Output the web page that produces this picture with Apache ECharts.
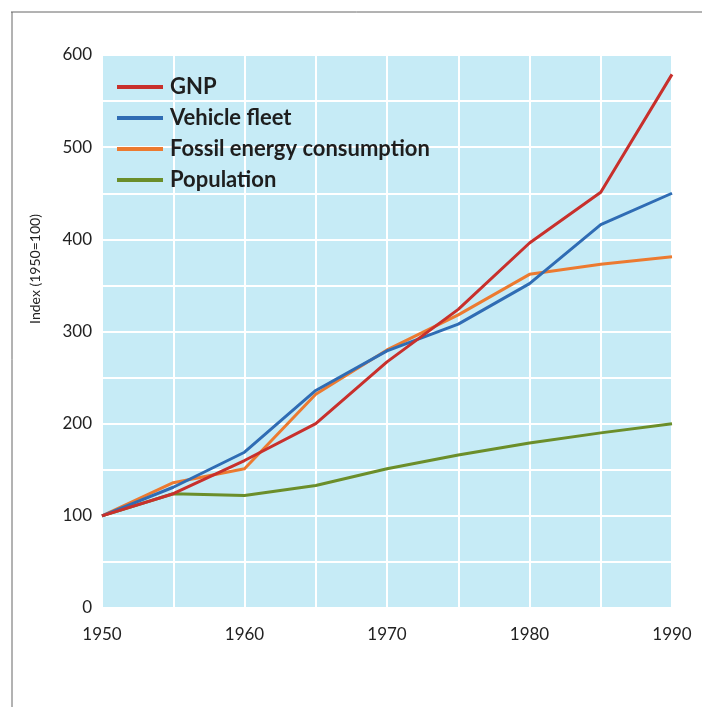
<!DOCTYPE html>
<html>
<head>
<meta charset="utf-8">
<script src="https://cdn.jsdelivr.net/npm/echarts@6/dist/echarts.min.js"></script>
<style>
html,body{margin:0;padding:0;background:#fff;}
#chart{width:702px;height:707px;}
</style>
</head>
<body>
<div id="chart"></div>
<script>
const years = [1950, 1955, 1960, 1965, 1970, 1975, 1980, 1985, 1990];
const gnp = [100, 124, 160, 200, 267, 324, 396, 451, 579];
const vehicleFleet = [100, 131, 169, 236, 279, 308, 352, 416, 450];
const fossilEnergy = [100, 136, 151, 232, 280, 318, 362, 373, 381];
const population = [100, 124, 122, 133, 151, 166, 179, 190, 200];
const seriesNames = ['GNP', 'Vehicle fleet', 'Fossil energy consumption', 'Population'];
const xTickLabels = [1950, 1960, 1970, 1980, 1990];
const yTickLabels = [0, 100, 200, 300, 400, 500, 600];
const yAxisTitle = 'Index (1950=100)';

const colors = ['#c8302c', '#2f6cb4', '#ec7a30', '#6b8e2a'];
const seriesData = [gnp, vehicleFleet, fossilEnergy, population];
const font = 'Lato, "Open Sans", sans-serif';

const chart = echarts.init(document.getElementById('chart'));
chart.setOption({
  animation: false,
  backgroundColor: '#ffffff',
  color: colors,
  graphic: [
    {type: 'line', shape: {x1: 11, y1: 12, x2: 702, y2: 12}, style: {stroke: '#666', lineWidth: 1}},
    {type: 'line', shape: {x1: 12, y1: 12, x2: 12, y2: 707}, style: {stroke: '#666', lineWidth: 1}},
    {type: 'text', x: 35, y: 269, rotation: Math.PI / 2,
     style: {text: yAxisTitle, font: '14px ' + font, fill: '#222', textAlign: 'center', textVerticalAlign: 'middle'}}
  ],
  grid: {
    left: 102, right: 30, top: 55, bottom: 99,
    show: true, backgroundColor: '#c6ebf6', borderWidth: 0
  },
  legend: {
    orient: 'vertical',
    left: 112, top: 71,
    icon: 'rect',
    itemWidth: 46, itemHeight: 4,
    itemGap: 9,
    data: seriesNames,
    textStyle: {fontFamily: font, fontWeight: 'bold', fontSize: 22, color: '#1e1e1e', padding: [0, 0, 0, 2]}
  },
  xAxis: {
    type: 'value',
    min: 1950, max: 1990, interval: 5,
    axisLine: {show: false},
    axisTick: {show: false},
    splitLine: {show: true, lineStyle: {color: '#ffffff', width: 2}},
    axisLabel: {
      margin: 18,
      fontFamily: font, fontSize: 17, color: '#222',
      formatter: v => xTickLabels.includes(v) ? String(v) : ''
    }
  },
  yAxis: {
    type: 'value',
    min: 0, max: 600, interval: 50,
    axisLine: {show: false},
    axisTick: {show: false},
    splitLine: {show: true, lineStyle: {color: '#ffffff', width: 2}},
    axisLabel: {
      margin: 10,
      fontFamily: font, fontSize: 17, color: '#222',
      formatter: v => yTickLabels.includes(v) ? String(v) : ''
    }
  },
  series: seriesNames.map((name, i) => ({
    name: name,
    type: 'line',
    symbol: 'none',
    z: 10 - i,
    lineStyle: {width: 3, color: colors[i]},
    itemStyle: {color: colors[i]},
    data: years.map((y, j) => [y, seriesData[i][j]])
  }))
});
</script>
</body>
</html>
